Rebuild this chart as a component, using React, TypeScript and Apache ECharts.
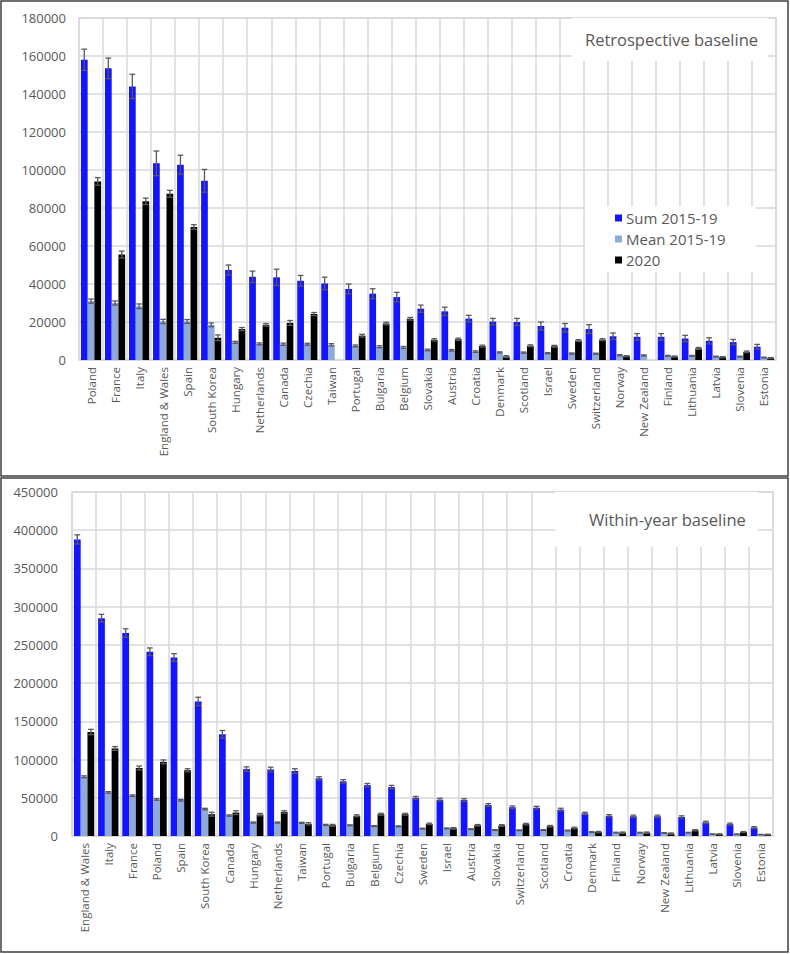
import React, { useEffect, useRef } from "react";
import * as echarts from "echarts";

const catsTop = ["Poland", "France", "Italy", "England & Wales", "Spain", "South Korea", "Hungary", "Netherlands", "Canada", "Czechia", "Taiwan", "Portugal", "Bulgaria", "Belgium", "Slovakia", "Austria", "Croatia", "Denmark", "Scotland", "Israel", "Sweden", "Switzerland", "Norway", "New Zealand", "Finland", "Lithuania", "Latvia", "Slovenia", "Estonia"];
const sumTop = [158000, 153500, 144000, 103500, 102800, 94300, 47400, 43800, 43500, 41700, 40300, 37400, 34900, 33100, 27000, 25600, 21800, 20200, 20000, 17900, 17000, 16300, 12500, 12200, 12200, 11300, 10100, 9400, 7000];
const sumTopErr = [5600, 5400, 6400, 6500, 5000, 6000, 2600, 3000, 4300, 2800, 3300, 2600, 2600, 2500, 1900, 2200, 1700, 1700, 1900, 2100, 2200, 2300, 1700, 1700, 1700, 1700, 1600, 1400, 1200];
const meanTop = [31000, 30000, 28300, 20300, 20300, 18500, 9300, 8500, 8300, 8300, 8000, 7400, 7000, 6600, 5300, 5100, 4400, 4000, 3900, 3600, 3400, 3300, 2500, 2400, 2200, 2200, 1800, 1800, 1300];
const meanTopErr = [1100, 1100, 1200, 1100, 1000, 1000, 500, 500, 600, 500, 600, 500, 500, 500, 400, 400, 400, 300, 300, 300, 300, 300, 300, 300, 200, 200, 200, 200, 200];
const y2020Top = [94000, 55500, 83500, 87500, 70000, 11700, 16300, 18500, 19500, 24200, 0, 12800, 19200, 21700, 10600, 10900, 7300, 1800, 7500, 7200, 10200, 10700, 2000, 0, 1800, 6100, 1500, 4300, 1000];
const y2020TopErr = [2000, 1800, 1700, 1800, 1200, 1500, 800, 700, 1300, 800, 0, 700, 700, 700, 600, 600, 500, 500, 500, 500, 500, 500, 300, 0, 300, 500, 300, 400, 300];

const catsBot = ["England & Wales", "Italy", "France", "Poland", "Spain", "South Korea", "Canada", "Hungary", "Netherlands", "Taiwan", "Portugal", "Bulgaria", "Belgium", "Czechia", "Sweden", "Israel", "Austria", "Slovakia", "Switzerland", "Scotland", "Croatia", "Denmark", "Finland", "Norway", "New Zealand", "Lithuania", "Latvia", "Slovenia", "Estonia"];
const sumBot = [388000, 285000, 265500, 241000, 233500, 176000, 133000, 87500, 87000, 85000, 75500, 71500, 66500, 64000, 50000, 47500, 47000, 40500, 37500, 37000, 34500, 29500, 26500, 25800, 25800, 24900, 17800, 15500, 11000];
const sumBotErr = [6000, 5000, 5500, 5000, 5000, 5500, 5000, 3000, 3000, 3000, 2000, 2200, 2200, 2200, 1800, 1800, 1800, 1800, 1800, 1800, 1800, 1500, 1500, 1500, 1500, 1500, 1500, 1300, 1200];
const meanBot = [77500, 57000, 52800, 47800, 46800, 35200, 26800, 17600, 17600, 17200, 14500, 14000, 13000, 12700, 9700, 10000, 9000, 7800, 7500, 7800, 7200, 5200, 4500, 4400, 4000, 4400, 2500, 2300, 1800];
const meanBotErr = [1200, 1000, 1000, 1000, 1000, 1000, 800, 700, 700, 700, 700, 600, 600, 600, 500, 500, 500, 500, 500, 500, 500, 400, 400, 400, 400, 400, 300, 300, 300];
const y2020Bot = [136000, 114500, 89000, 97000, 86000, 28500, 30500, 28000, 31500, 16000, 14000, 26500, 28500, 28500, 15800, 10000, 14000, 13800, 15500, 12800, 10500, 5200, 4400, 4400, 3200, 7500, 2300, 5200, 1800];
const y2020BotErr = [3500, 2500, 2500, 2500, 2000, 2500, 2500, 1500, 1500, 1500, 1200, 1200, 1200, 1200, 1000, 1000, 1000, 1000, 1000, 1000, 1000, 800, 800, 800, 800, 800, 600, 600, 500];

const seriesNames = ["Sum 2015-19", "Mean 2015-19", "2020"];
const seriesColors = ["#1414FF", "#8EAADB", "#000000"];

const yTopTicks = { min: 0, max: 180000, interval: 20000 };
const yBotTicks = { min: 0, max: 450000, interval: 50000 };

const GAP = 0.16;
const GRID_COLOR = "#D9D9D9";
const TEXT_COLOR = "#595959";
const FONT = "'Open Sans', 'Noto Sans', sans-serif";

function errSeries(vals: number[], errs: number[], k: number, axisIdx: number) {
  return {
    type: "custom",
    xAxisIndex: axisIdx,
    yAxisIndex: axisIdx,
    silent: true,
    z: 5,
    encode: { x: 0, y: 1 },
    data: vals.map((v, i) => [i, v, errs[i]]),
    renderItem: (params: any, api: any) => {
      const ci = api.value(0);
      const v = api.value(1);
      const e = api.value(2);
      if (!(v > 0) || !(e > 0)) return null;
      const band = api.size([1, 0])[0];
      const groupW = band * (1 - GAP);
      const bw = groupW / 3;
      const c = api.coord([ci, v]);
      const x = c[0] - groupW / 2 + bw * (k + 0.5);
      const yTop = api.coord([ci, v + e])[1];
      const yBot = api.coord([ci, Math.max(0, v - e)])[1];
      const hw = bw * 0.42;
      const style = { stroke: "#595959", lineWidth: 1.3 };
      return {
        type: "group",
        children: [
          { type: "line", shape: { x1: x, y1: yTop, x2: x, y2: yBot }, style },
          { type: "line", shape: { x1: x - hw, y1: yTop, x2: x + hw, y2: yTop }, style },
          { type: "line", shape: { x1: x - hw, y1: yBot, x2: x + hw, y2: yBot }, style },
        ],
      };
    },
  };
}

function barSeries(name: string, color: string, vals: number[], axisIdx: number) {
  return {
    type: "bar",
    name,
    xAxisIndex: axisIdx,
    yAxisIndex: axisIdx,
    data: vals,
    barGap: "0%",
    barCategoryGap: (GAP * 100).toFixed(0) + "%",
    itemStyle: { color },
    z: 2,
  };
}

function xAxis(cats: string[], gridIndex: number) {
  return {
    type: "category",
    gridIndex,
    data: cats,
    axisTick: { show: false },
    axisLine: { show: true, lineStyle: { color: GRID_COLOR, width: 1.5 } },
    splitLine: { show: true, lineStyle: { color: GRID_COLOR, width: 1.5 } },
    axisLabel: {
      rotate: 90,
      interval: 0,
      margin: 7,
      color: TEXT_COLOR,
      fontSize: 11.5,
      fontFamily: FONT,
    },
  };
}

function yAxis(t: { min: number; max: number; interval: number }, gridIndex: number, margin: number) {
  return {
    type: "value",
    gridIndex,
    min: t.min,
    max: t.max,
    interval: t.interval,
    axisLine: { show: false },
    axisTick: { show: false },
    splitLine: { show: true, lineStyle: { color: GRID_COLOR, width: 1.5 } },
    axisLabel: {
      color: TEXT_COLOR,
      fontSize: 13,
      fontFamily: FONT,
      margin,
      formatter: (v: number) => String(v),
    },
  };
}

export default function App() {
  const ref = useRef<HTMLDivElement>(null);
  useEffect(() => {
    document.body.style.margin = "0";
    if (!ref.current) return;
    const chart = echarts.init(ref.current, undefined, { renderer: "svg" });
    chart.setOption({
      animation: false,
      backgroundColor: "#ffffff",
      grid: [
        { left: 79, right: 14, top: 18, height: 342, show: true, borderColor: GRID_COLOR, borderWidth: 1.5 },
        { left: 72, right: 17, top: 492, height: 344, show: true, borderColor: GRID_COLOR, borderWidth: 1.5 },
      ],
      title: [
        {
          text: "Retrospective baseline",
          left: 572,
          top: 18,
          padding: [13, 10, 13, 13],
          backgroundColor: "#ffffff",
          textStyle: { fontSize: 16.5, fontWeight: "normal", color: TEXT_COLOR, fontFamily: FONT },
          z: 10,
        },
        {
          text: "Within-year baseline",
          left: 555,
          top: 492,
          padding: [19, 12, 19, 34],
          backgroundColor: "#ffffff",
          textStyle: { fontSize: 16.5, fontWeight: "normal", color: TEXT_COLOR, fontFamily: FONT },
          z: 10,
        },
      ],
      legend: {
        data: seriesNames,
        orient: "vertical",
        left: 585,
        top: 206,
        padding: [4, 30, 4, 30],
        backgroundColor: "#ffffff",
        itemWidth: 7,
        itemHeight: 7,
        itemGap: 5,
        icon: "rect",
        selectedMode: false,
        textStyle: { fontSize: 15, color: TEXT_COLOR, fontFamily: FONT, lineHeight: 16, padding: [0, 0, 0, -1] },
        z: 10,
      },
      xAxis: [xAxis(catsTop, 0), xAxis(catsBot, 1)],
      yAxis: [yAxis(yTopTicks, 0, 13), yAxis(yBotTicks, 1, 14)],
      series: [
        barSeries(seriesNames[0], seriesColors[0], sumTop, 0),
        barSeries(seriesNames[1], seriesColors[1], meanTop, 0),
        barSeries(seriesNames[2], seriesColors[2], y2020Top, 0),
        barSeries(seriesNames[0], seriesColors[0], sumBot, 1),
        barSeries(seriesNames[1], seriesColors[1], meanBot, 1),
        barSeries(seriesNames[2], seriesColors[2], y2020Bot, 1),
        errSeries(sumTop, sumTopErr, 0, 0),
        errSeries(meanTop, meanTopErr, 1, 0),
        errSeries(y2020Top, y2020TopErr, 2, 0),
        errSeries(sumBot, sumBotErr, 0, 1),
        errSeries(meanBot, meanBotErr, 1, 1),
        errSeries(y2020Bot, y2020BotErr, 2, 1),
      ],
      graphic: [
        { type: "rect", shape: { x: 1, y: 1, width: 787, height: 475 }, style: { fill: "none", stroke: "#404040", lineWidth: 1.5 }, silent: true },
        { type: "rect", shape: { x: 1, y: 478, width: 787, height: 474 }, style: { fill: "none", stroke: "#404040", lineWidth: 1.5 }, silent: true },
      ],
    });
    return () => chart.dispose();
  }, []);
  return <div ref={ref} style={{ position: "absolute", left: 0, top: 0, width: 790, height: 954 }} />;
}
